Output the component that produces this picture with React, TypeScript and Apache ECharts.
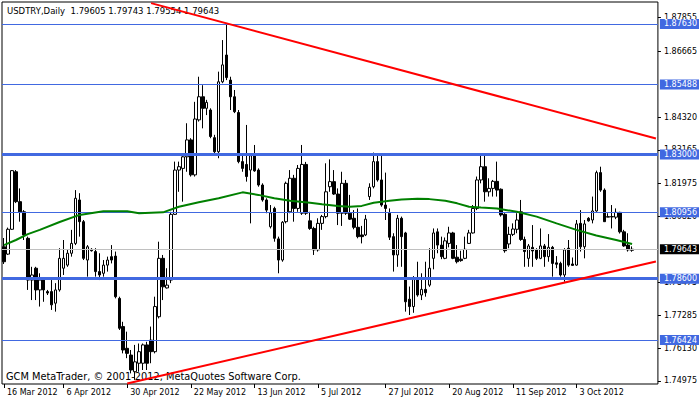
import React, { useEffect, useRef } from "react";
import * as echarts from "echarts";

const SYMBOL_TITLE = "USDTRY,Daily  1.79605 1.79743 1.79554 1.79643";
const FOOTER = "GCM MetaTrader, © 2001-2012, MetaQuotes Software Corp.";

const categoryCount = 165;
const categories: string[] = Array.from({ length: categoryCount }, (_, i) => String(i));

const xTickLabels: [number, string][] = [
  [0, "16 Mar 2012"], [15, "6 Apr 2012"], [31, "30 Apr 2012"], [47, "22 May 2012"],
  [63, "13 Jun 2012"], [79, "5 Jul 2012"], [96, "27 Jul 2012"], [112, "20 Aug 2012"],
  [128, "11 Sep 2012"], [144, "3 Oct 2012"],
];

const yTickValues = [1.87855, 1.86665, 1.8432, 1.83165, 1.81975, 1.8082, 1.78475, 1.77285, 1.7613, 1.74975];
const yMin = 1.74864;
const yMax = 1.8841;

const opens = [
  1.7973,1.7947,1.8035,1.8239,1.8133,1.8097,1.8003,1.7855,1.7897,1.7820,
  1.7855,1.7814,1.7814,1.7773,1.7820,1.7897,1.7908,1.7950,1.7985,1.8139,
  1.8062,1.7926,1.7964,1.7956,1.7885,1.7879,1.7908,1.7938,1.7940,1.7790,
  1.7690,1.7613,1.7589,1.7530,1.7560,1.7560,1.7625,1.7642,1.7601,1.7725,
  1.7932,1.7827,1.7855,1.8088,1.8245,1.8251,1.8292,1.8352,1.8228,1.8423,
  1.8505,1.8464,1.8458,1.8360,1.8310,1.8558,1.8653,1.8564,1.8505,1.8449,
  1.8275,1.8265,1.8245,1.8298,1.8245,1.8192,1.8139,1.8044,1.8109,1.8001,
  1.7926,1.8062,1.8097,1.8216,1.8109,1.8092,1.8265,1.8065,1.8038,1.7962,
  1.8056,1.8080,1.8186,1.8204,1.8160,1.8092,1.8198,1.8092,1.8074,1.8042,
  1.8015,1.8015,1.8151,1.8186,1.8275,1.8210,1.8121,1.8092,1.8009,1.7944,
  1.8074,1.8022,1.7787,1.7761,1.7858,1.7802,1.7822,1.7837,1.7932,1.8026,
  1.7979,1.7932,1.7985,1.8022,1.7936,1.7929,1.7932,1.7985,1.8022,1.8109,
  1.8210,1.8257,1.8168,1.8180,1.8205,1.8177,1.8088,1.7983,1.8017,1.8035,
  1.8097,1.7999,1.7932,1.7971,1.7962,1.7932,1.7976,1.7938,1.7971,1.7916,
  1.7914,1.7873,1.7968,1.7912,1.7908,1.8056,1.7973,1.8074,1.8068,1.8100,
  1.8236,1.8174,1.8078,1.8080,1.8078,1.8095,1.8026,1.7979,1.79605,
];

const highs = [
  1.8004,1.8041,1.8245,1.8245,1.8180,1.8103,1.8009,1.7902,1.7902,1.7879,
  1.7861,1.7820,1.7855,1.7844,1.7968,1.7997,1.7962,1.8033,1.8174,1.8163,
  1.8068,1.7979,1.7968,1.7968,1.7950,1.7926,1.7938,1.7979,1.7956,1.7796,
  1.7707,1.7672,1.7607,1.7625,1.7630,1.7630,1.7636,1.7690,1.7796,1.7991,
  1.7944,1.7897,1.8097,1.8275,1.8275,1.8304,1.8411,1.8358,1.8487,1.8576,
  1.8546,1.8494,1.8464,1.8370,1.8594,1.8706,1.8763,1.8576,1.8529,1.8458,
  1.8304,1.8405,1.8298,1.8334,1.8251,1.8198,1.8145,1.8121,1.8115,1.8009,
  1.8064,1.8204,1.8245,1.8228,1.8263,1.8334,1.8274,1.8097,1.8044,1.8074,
  1.8086,1.8269,1.8283,1.8245,1.8180,1.8239,1.8210,1.8157,1.8103,1.8109,
  1.8047,1.8086,1.8198,1.8307,1.8304,1.8298,1.8236,1.8109,1.8021,1.8086,
  1.8080,1.8026,1.7832,1.7869,1.7920,1.7879,1.7920,1.7968,1.8038,1.8038,
  1.8009,1.8006,1.8044,1.8026,1.7979,1.7959,1.8009,1.8033,1.8121,1.8222,
  1.8304,1.8298,1.8216,1.8210,1.8275,1.8180,1.8092,1.8044,1.8056,1.8092,
  1.8139,1.8009,1.7983,1.8050,1.7968,1.8038,1.7983,1.8018,1.7976,1.7940,
  1.7920,1.7968,1.7997,1.7935,1.8068,1.8103,1.8068,1.8078,1.8151,1.8243,
  1.8257,1.8180,1.8092,1.8121,1.8109,1.8097,1.8033,1.8021,1.79743,
];

const lows = [
  1.7912,1.7944,1.8033,1.8128,1.8062,1.7997,1.7820,1.7784,1.7784,1.7761,
  1.7778,1.7802,1.7749,1.7743,1.7814,1.7873,1.7902,1.7938,1.7979,1.8009,
  1.7926,1.7867,1.7956,1.7867,1.7855,1.7867,1.7885,1.7914,1.7790,1.7678,
  1.7595,1.7578,1.7524,1.7501,1.7530,1.7536,1.7536,1.7560,1.7595,1.7719,
  1.7784,1.7825,1.7844,1.8086,1.8168,1.8133,1.8239,1.8222,1.8222,1.8417,
  1.8393,1.8440,1.8358,1.8305,1.8287,1.8553,1.8564,1.8458,1.8447,1.8269,
  1.8239,1.8204,1.8056,1.8239,1.8186,1.8133,1.8092,1.8038,1.7991,1.7879,
  1.7920,1.8056,1.8092,1.8062,1.8097,1.8086,1.8086,1.8033,1.7944,1.7956,
  1.8033,1.8074,1.8168,1.8157,1.8050,1.8047,1.8086,1.8068,1.8035,1.8003,
  1.7985,1.8011,1.8139,1.8180,1.8204,1.8115,1.8068,1.7997,1.7885,1.7902,
  1.7902,1.7743,1.7731,1.7739,1.7796,1.7784,1.7796,1.7831,1.7893,1.7950,
  1.7929,1.7929,1.7971,1.7929,1.7914,1.7920,1.7929,1.7983,1.8020,1.8103,
  1.8198,1.8133,1.8151,1.8151,1.8151,1.8080,1.7952,1.7968,1.8011,1.8021,
  1.7994,1.7902,1.7902,1.7902,1.7926,1.7929,1.7902,1.7920,1.7867,1.7897,
  1.7867,1.7849,1.7902,1.7906,1.7906,1.7956,1.7932,1.8062,1.8056,1.8097,
  1.8168,1.8062,1.8078,1.8038,1.8071,1.8020,1.7973,1.7956,1.79554,
];

const closes = [
  1.7920,1.8035,1.8243,1.8133,1.8097,1.8015,1.7855,1.7873,1.7820,1.7855,
  1.7820,1.7809,1.7767,1.7820,1.7932,1.7932,1.7950,1.7985,1.8145,1.8062,
  1.7932,1.7973,1.7959,1.7885,1.7873,1.7908,1.7926,1.7926,1.7796,1.7684,
  1.7607,1.7595,1.7536,1.7565,1.7601,1.7625,1.7560,1.7601,1.7761,1.7932,
  1.7831,1.7837,1.8088,1.8245,1.8257,1.8292,1.8352,1.8228,1.8426,1.8505,
  1.8464,1.8485,1.8364,1.8310,1.8558,1.8618,1.8573,1.8505,1.8452,1.8275,
  1.8251,1.8222,1.8296,1.8242,1.8192,1.8139,1.8103,1.8093,1.8003,1.7926,
  1.8060,1.8198,1.8216,1.8109,1.8251,1.8265,1.8092,1.8038,1.7962,1.8056,
  1.8080,1.8168,1.8204,1.8160,1.8092,1.8198,1.8092,1.8071,1.8042,1.8009,
  1.8009,1.8071,1.8184,1.8275,1.8210,1.8121,1.8109,1.8007,1.7944,1.8074,
  1.8009,1.7778,1.7761,1.7858,1.7802,1.7822,1.7810,1.7897,1.8022,1.7979,
  1.7938,1.7994,1.8022,1.7932,1.7920,1.7924,1.7964,1.8022,1.8109,1.8210,
  1.8257,1.8168,1.8180,1.8205,1.8174,1.8086,1.7959,1.8017,1.8036,1.8068,
  1.7999,1.7956,1.7976,1.7958,1.7932,1.7976,1.7938,1.7971,1.7914,1.7911,
  1.7873,1.7962,1.7908,1.7907,1.8054,1.7973,1.8054,1.8065,1.8100,1.8236,
  1.8174,1.8062,1.8080,1.8079,1.8095,1.8026,1.7976,1.7962,1.79643,
];

const maPoints: [number, number][] = [
  [0, 1.7979], [3, 1.7997], [6, 1.8018], [9, 1.8033], [14, 1.8061], [19, 1.8086],
  [25, 1.8099], [31, 1.8099], [34, 1.8092], [40, 1.8095], [44, 1.8115], [49, 1.8131],
  [54, 1.8145], [60, 1.8166], [64, 1.8157], [68, 1.8145], [72, 1.8136], [77, 1.8129],
  [80, 1.8124], [84, 1.8118], [87, 1.8115], [90, 1.8118], [93, 1.8129], [97, 1.8136],
  [100, 1.8141], [104, 1.8143], [107, 1.8142], [111, 1.8136], [114, 1.8127], [117, 1.8115],
  [120, 1.8112], [124, 1.8109], [129, 1.8097], [134, 1.8080], [139, 1.8056], [144, 1.8033],
  [149, 1.8013], [154, 1.7997], [158, 1.7983],
];

const upperTrend: [number, number][] = [[37, 1.8837], [164, 1.8357]];
const lowerTrend: [number, number][] = [[31, 1.7488], [164, 1.7921]];

const thinLevels = [1.8763, 1.85488, 1.80956, 1.76424];
const thickLevels = [1.83, 1.786];
const lastPrice = 1.79643;

const FONT = "DejaVu Sans";

export default function App() {
  const ref = useRef<HTMLDivElement>(null);

  useEffect(() => {
    if (!ref.current) return;
    const chart = echarts.init(ref.current, undefined, { renderer: "svg" });
    const labelMap = new Map<number, string>(xTickLabels);
    const candleData = opens.map((o, i) => [o, closes[i], lows[i], highs[i]]);

    const levelLabel = (bg: string) => ({
      show: true,
      position: "end",
      distance: 2,
      backgroundColor: bg,
      color: "#fff",
      padding: [1, 2, 1, 4],
      fontSize: 8,
      fontFamily: FONT,
      formatter: (p: any) => Number(p.value).toFixed(5),
    });

    const markData: any[] = [
      ...thinLevels.map((v) => ({ yAxis: v, lineStyle: { color: "#4169e1", width: 1, type: "solid" }, label: levelLabel("#4169e1") })),
      ...thickLevels.map((v) => ({ yAxis: v, lineStyle: { color: "#4169e1", width: 3, type: "solid" }, label: levelLabel("#4169e1") })),
      { yAxis: lastPrice, lineStyle: { color: "#c0c0c0", width: 1, type: "solid" }, label: levelLabel("#000") },
    ];

    chart.setOption({
      animation: false,
      backgroundColor: "#fff",
      grid: { left: 2, right: 40, top: 2, bottom: 18, show: true, borderColor: "#000", borderWidth: 1, backgroundColor: "transparent" },
      xAxis: {
        type: "category",
        data: categories,
        boundaryGap: true,
        axisLine: { show: false },
        axisTick: {
          show: true,
          alignWithLabel: true,
          interval: (i: number) => labelMap.has(i),
          length: 4,
          lineStyle: { color: "#000" },
        },
        axisLabel: {
          interval: (i: number) => labelMap.has(i),
          formatter: (_v: string, i: number) => labelMap.get(i) ?? "",
          align: "left",
          margin: 4,
          padding: [0, 0, 0, 3],
          fontSize: 8,
          fontFamily: FONT,
          color: "#000",
        },
        splitLine: { show: false },
      },
      yAxis: {
        type: "value",
        position: "right",
        min: yMin,
        max: yMax,
        axisLine: { show: false },
        axisTick: { show: true, customValues: yTickValues, length: 3, lineStyle: { color: "#000" } },
        axisLabel: {
          customValues: yTickValues,
          formatter: (v: number) => v.toFixed(5),
          fontSize: 8,
          fontFamily: FONT,
          color: "#000",
          margin: 6,
        },
        splitLine: { show: false },
      },
      graphic: [
        { type: "text", left: 7, top: 6, z: 0, style: { text: SYMBOL_TITLE, fontSize: 8.5, fontFamily: FONT, fill: "#000" } },
        { type: "text", left: 6, top: 371, z: 0, style: { text: FOOTER, fontSize: 9.8, fontFamily: FONT, fill: "#000" } },
      ],
      series: [
        {
          type: "candlestick",
          data: candleData,
          barWidth: 3,
          z: 2,
          itemStyle: { color: "#fff", color0: "#000", borderColor: "#000", borderColor0: "#000", borderWidth: 1 },
          markLine: { symbol: ["none", "none"], silent: true, precision: 5, z: 5, data: markData },
        },
        {
          type: "line",
          data: maPoints,
          showSymbol: false,
          z: 7,
          lineStyle: { color: "#008000", width: 2 },
        },
        {
          type: "line",
          data: upperTrend,
          showSymbol: false,
          z: 8,
          lineStyle: { color: "#ff0000", width: 2 },
        },
        {
          type: "line",
          data: lowerTrend,
          showSymbol: false,
          z: 8,
          lineStyle: { color: "#ff0000", width: 2 },
        },
      ],
    });

    return () => chart.dispose();
  }, []);

  return <div ref={ref} style={{ position: "fixed", left: 0, top: 0, width: 700, height: 402 }} />;
}
